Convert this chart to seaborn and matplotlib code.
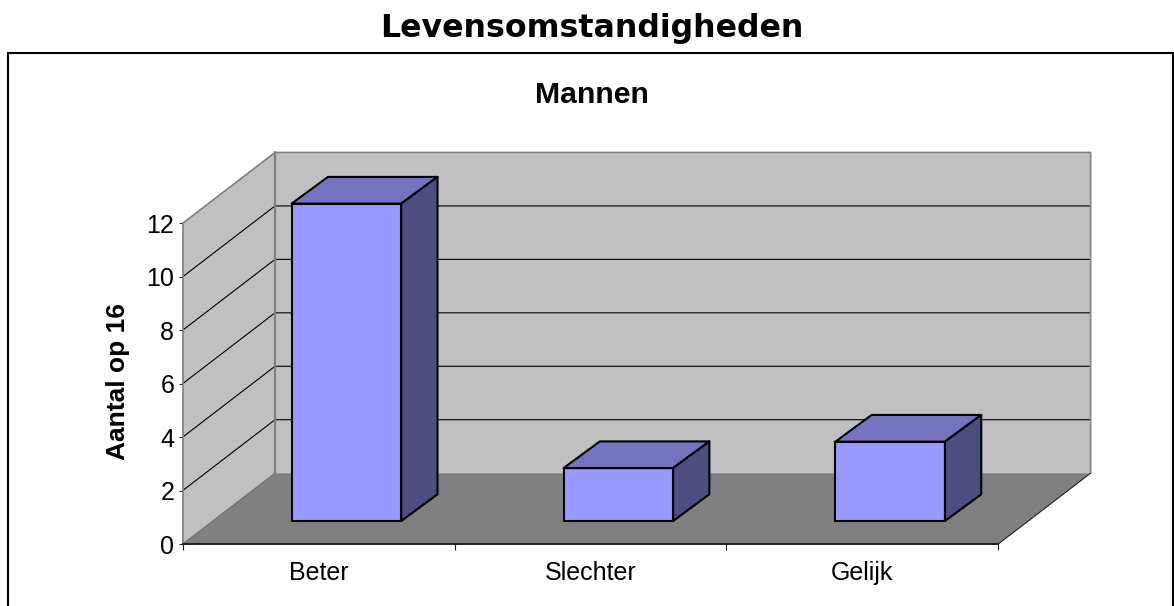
import matplotlib
matplotlib.use("Agg")
import matplotlib.pyplot as plt
from matplotlib.patches import Polygon, Rectangle
import seaborn as sns

categories = ["Beter", "Slechter", "Gelijk"]
values = [12, 2, 3]
y_ticks = [0, 2, 4, 6, 8, 10, 12]
title = "Levensomstandigheden"
subtitle = "Mannen"
y_label = "Aantal op 16"

W, H = 1174, 606
BAR = "#9999FF"; TOP = "#7373BF"; SIDE = "#4D4D80"
WALL = "#C0C0C0"; FLOOR = "#808080"

sns.set_theme(style="white")
plt.rcParams["font.family"] = ["Liberation Sans", "DejaVu Sans"]

fig = plt.figure(figsize=(W / 100, H / 100), dpi=100, facecolor="white")

def box(x0, y_top, x1, y_bot):
    return [x0 / W, 1 - y_bot / H, (x1 - x0) / W, (y_bot - y_top) / H]

# Outer frame: the reference crops it at the bottom edge
fig.add_artist(Rectangle((7.5 / W, 1 - 620 / H), (1172.5 - 7.5) / W, (620 - 53) / H,
                         transform=fig.transFigure, fill=False, ec="black", lw=1.5))

ax = fig.add_axes(box(182.7, 223.3, 998.3, 544), facecolor="none", zorder=1)
ax.set_xlim(-0.5, 2.5)
ax.set_ylim(0, 12)
dx, dy = 0.3395, 2.65
x0, x1 = -0.5, 2.5
ymax = y_ticks[-1]

ax.add_patch(Polygon([(x0 + dx, dy), (x1 + dx, dy), (x1 + dx, ymax + dy), (x0 + dx, ymax + dy)],
                     fc=WALL, ec="none", clip_on=False, zorder=1))
ax.add_patch(Polygon([(x0, 0), (x0 + dx, dy), (x0 + dx, ymax + dy), (x0, ymax)],
                     fc=WALL, ec="none", clip_on=False, zorder=1))
ax.add_patch(Polygon([(x0, 0), (x1, 0), (x1 + dx, dy), (x0 + dx, dy)],
                     fc=FLOOR, ec="none", clip_on=False, zorder=1))
for v in y_ticks[1:-1]:
    ax.plot([x0, x0 + dx, x1 + dx], [v, v + dy, v + dy], color="black", lw=0.8, clip_on=False, zorder=2)
ax.plot([x0, x0 + dx, x1 + dx, x1 + dx], [ymax, ymax + dy, ymax + dy, dy], color=FLOOR, lw=1.2, clip_on=False, zorder=2)
ax.plot([x0 + dx, x0 + dx], [dy, ymax + dy], color=FLOOR, lw=1.6, clip_on=False, zorder=2)
ax.plot([x0, x0 + dx], [0, dy], color="#6e6e6e", lw=0.8, clip_on=False, zorder=2)
ax.plot([x1, x1 + dx], [0, dy], color="#202020", lw=0.8, clip_on=False, zorder=2)

for s in ("top", "right"):
    ax.spines[s].set_visible(False)
ax.spines["left"].set_color(FLOOR)
ax.spines["left"].set_linewidth(1.2)
ax.spines["bottom"].set_color("#202020")
ax.spines["bottom"].set_linewidth(1.4)
ax.set_yticks(y_ticks)
ax.tick_params(axis="y", left=True, length=3, width=0.8, color="#202020", labelsize=18, pad=3, labelcolor="black")
ax.set_xticks([-0.5, 0.5, 1.5, 2.5], labels=[])
ax.set_xticks([0, 1, 2], labels=categories, minor=True)
ax.tick_params(axis="x", which="major", bottom=True, length=4, width=0.8, color="#202020")
ax.tick_params(axis="x", which="minor", bottom=False, labelbottom=True, length=0, labelsize=18, pad=12, labelcolor="black")
ax.set_ylabel(y_label, fontsize=19, fontweight="bold", color="black", labelpad=0)
ax.yaxis.set_label_coords((130 - 182.7) / (998.3 - 182.7), (544 - 381) / (544 - 223.3))

# Bars stand inside the floor: their own axes, shifted into the depth.
bar_h = 26.45 * ymax
axb = fig.add_axes(box(182.7 + 27.8, 521 - bar_h, 998.3 + 27.8, 521), facecolor="none", zorder=2)
sns.barplot(x=categories, y=values, ax=axb, color=BAR, saturation=1, width=0.403,
            edgecolor="black", linewidth=1.5, zorder=5, clip_on=False)
axb.set_xlim(-0.5, 2.5)
axb.set_ylim(0, ymax)
axb.set_axis_off()
bdx, bdy = 36.3 / 271.9, 26.7 / 26.45
for p in list(axb.patches):
    l, r, h = p.get_x(), p.get_x() + p.get_width(), p.get_height()
    axb.add_patch(Polygon([(l, h), (r, h), (r + bdx, h + bdy), (l + bdx, h + bdy)],
                          fc=TOP, ec="black", lw=1.5, joinstyle="round", clip_on=False, zorder=5))
    axb.add_patch(Polygon([(r, 0), (r + bdx, bdy), (r + bdx, h + bdy), (r, h)],
                          fc=SIDE, ec="black", lw=1.5, joinstyle="round", clip_on=False, zorder=5))

fig.text(591.5 / W, 1 - 29 / H, title, ha="center", va="center", fontsize=22.8,
         fontweight="bold", family="DejaVu Sans", color="black")
fig.text(591.5 / W, 1 - 95 / H, subtitle, ha="center", va="center", fontsize=21.8,
         fontweight="bold", color="black")

fig.savefig("out.png", dpi=100, facecolor="white")
